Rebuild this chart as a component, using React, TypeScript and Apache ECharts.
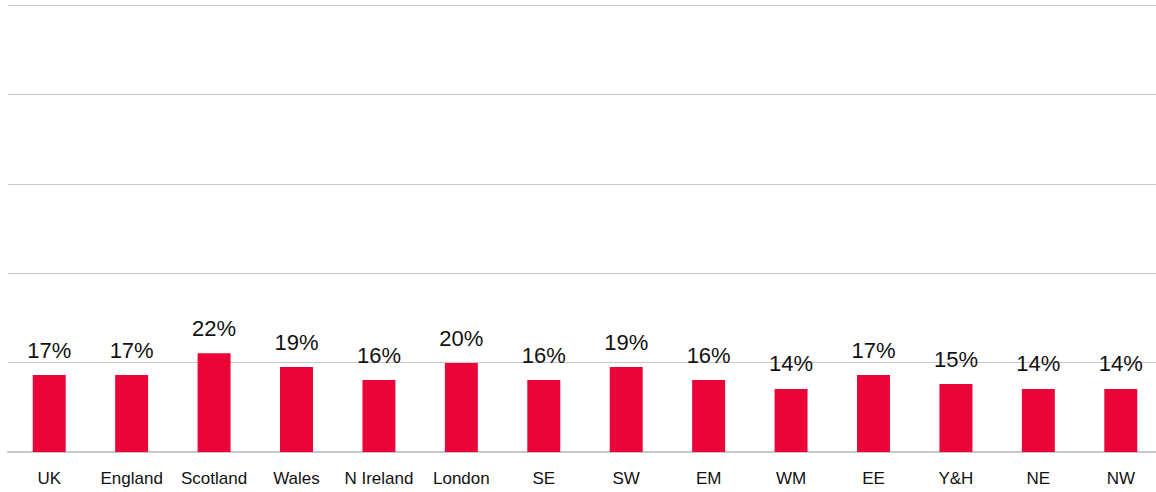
import React, { useEffect, useRef } from "react";
import * as echarts from "echarts";

const categories = ["UK", "England", "Scotland", "Wales", "N Ireland", "London", "SE", "SW", "EM", "WM", "EE", "Y&H", "NE", "NW"];
const values = [17.2, 17.2, 22.1, 19.0, 16.1, 19.9, 16.1, 19.0, 16.1, 14.1, 17.2, 15.2, 14.1, 14.1];
const yTicks = [0, 20, 40, 60, 80, 100];

export default function App() {
  const ref = useRef<HTMLDivElement>(null);
  useEffect(() => {
    if (!ref.current) return;
    const chart = echarts.init(ref.current, null, { renderer: "svg" });
    chart.setOption({
      animation: false,
      grid: { left: 8, right: 0, top: 5, bottom: 40, containLabel: false },
      xAxis: {
        type: "category",
        data: categories,
        axisLine: { lineStyle: { color: "#c6c6c6", width: 2 } },
        axisTick: { show: false },
        axisLabel: {
          color: "#111",
          fontFamily: "Liberation Sans, Arial, sans-serif",
          fontSize: 17,
          margin: 18,
          interval: 0,
        },
      },
      yAxis: {
        type: "value",
        min: yTicks[0],
        max: yTicks[yTicks.length - 1],
        interval: 20,
        axisLabel: { show: false },
        axisLine: { show: false },
        axisTick: { show: false },
        splitLine: { lineStyle: { color: "#c8c8c8", width: 1 } },
      },
      series: [
        {
          type: "bar",
          data: values,
          barWidth: "40%",
          itemStyle: { color: "#EA0437" },
          label: {
            show: true,
            position: "top",
            distance: 14,
            color: "#111",
            fontFamily: "Liberation Sans, Arial, sans-serif",
            fontSize: 22,
            formatter: (p: any) => Math.round(p.value) + "%",
          },
        },
      ],
    });
    return () => chart.dispose();
  }, []);
  return (
    <div style={{ position: "absolute", left: 0, top: 0, width: 1156, height: 492, overflow: "hidden", background: "#fff" }}>
      <div ref={ref} style={{ width: 1162, height: 492 }} />
    </div>
  );
}
